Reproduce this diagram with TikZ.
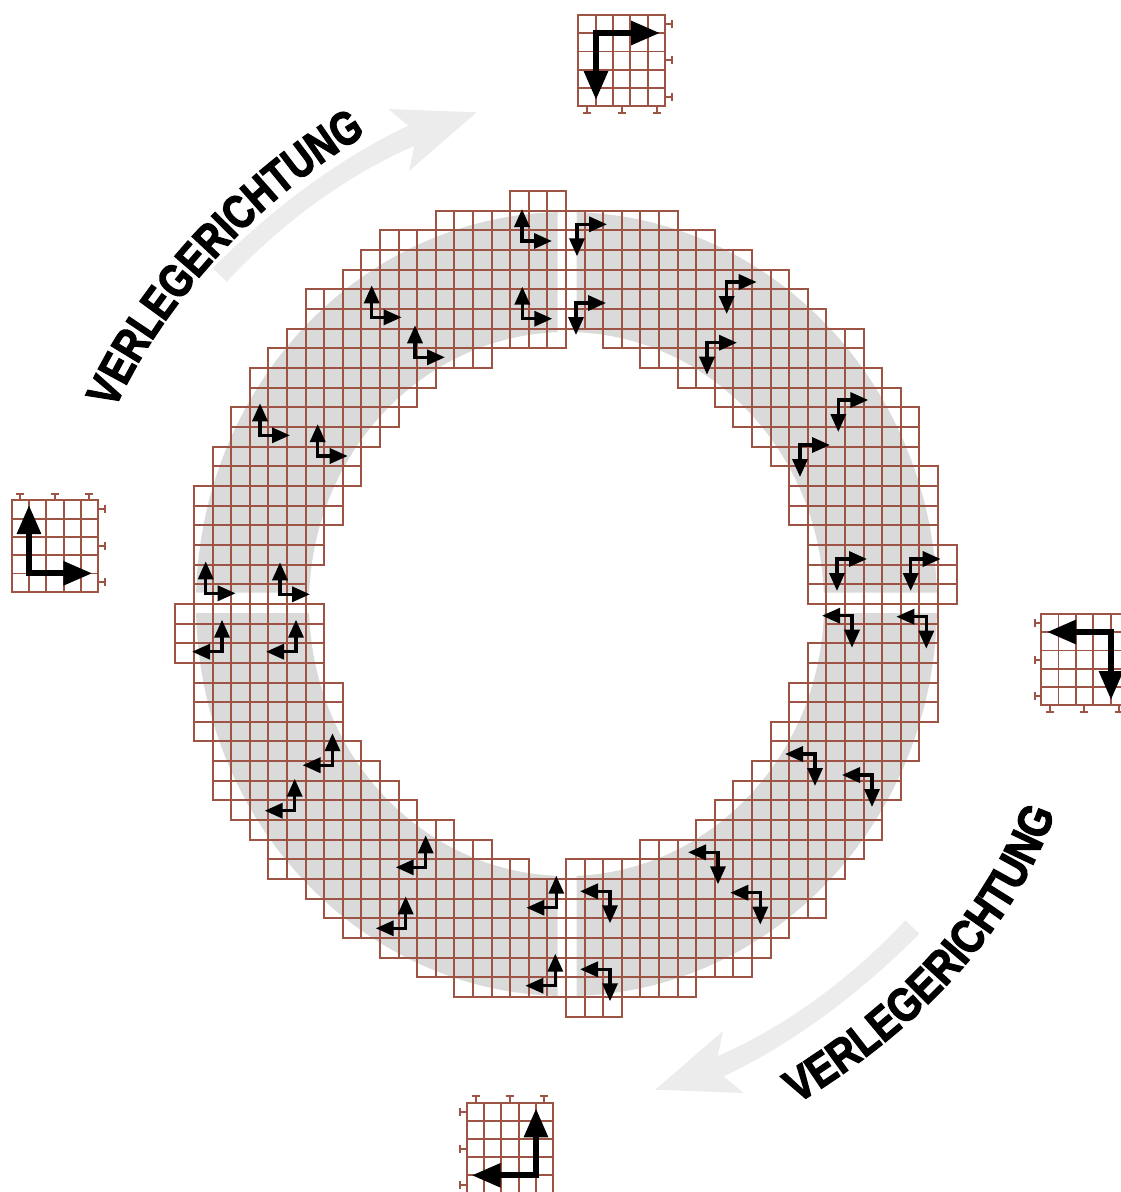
\documentclass[tikz,border=0pt]{standalone}
\usepackage{fontspec}
\usetikzlibrary{arrows.meta,decorations.text}
\newfontfamily\verl[FakeStretch=0.80,FakeBold=2.5]{Liberation Sans}
\newfontfamily\verlb[FakeStretch=0.84,FakeBold=2.5]{Liberation Sans}
\definecolor{gridbrown}{RGB}{158,84,68}
\definecolor{ringgrey}{RGB}{218,218,218}
\definecolor{sweepgrey}{RGB}{236,236,236}
\tikzset{
  cellline/.style={draw=gridbrown,line width=2pt},
  smallL/.style={line width=3.4pt,black,{Triangle[length=18pt,width=15pt]}-{Triangle[length=18pt,width=15pt]}},
  bigL/.style={line width=5.9pt,black,{Triangle[length=29pt,width=23pt]}-{Triangle[length=29pt,width=23pt]}},
  tickmark/.style={draw=gridbrown,line width=2pt},
  sweep/.style={fill=sweepgrey,draw=none},
  sweeptexta/.style={decorate,decoration={text along path,text align=center,
    text={|\verl\bfseries\fontsize{47}{47}\selectfont|VERLEGERICHTUNG}}},
  sweeptextb/.style={decorate,decoration={text along path,text align=center,
    text={|\verlb\bfseries\fontsize{47}{47}\selectfont|VERLEGERICHTUNG}}}
}
% small 5x5 panel: x0,y0,pitch x,pitch y
\newcommand{\panel}[4]{%
  \foreach \pa in {0,...,4}{\foreach \pb in {0,...,4}{%
    \draw[cellline,line width=1.8pt] ({#1+\pa*#3},{#2+\pb*#4}) rectangle ++(#3,#4);}}}
\newcommand{\tickH}[3]{\draw[tickmark] (#1,#3)--(#2,#3); \draw[tickmark] (#2,#3-4)--(#2,#3+4);}
\newcommand{\tickV}[3]{\draw[tickmark] (#1,#2)--(#1,#3); \draw[tickmark] (#1-4,#3)--(#1+4,#3);}
\begin{document}
\begin{tikzpicture}[x=1pt,y=-1pt]
\useasboundingbox (0,0) rectangle (1121,1192);
\clip (0,0) rectangle (1121,1192);
% sweeping arrows
\fill[sweep] (212.7,268.3) .. controls (265,215) and (335,160) .. (408.3,125.7)
  -- (388.3,109) -- (476.7,112.3) -- (409,171) -- (414.3,146)
  .. controls (340,178) and (275,230) .. (226.7,281.7) -- cycle;
\fill[sweep] (919.3,933.7) .. controls (867,987) and (797,1042) .. (723.7,1076.3)
  -- (743.7,1093) -- (655.3,1089.7) -- (723,1031) -- (717.7,1056)
  .. controls (792,1024) and (857,972) .. (905.3,920.3) -- cycle;
\path[sweeptexta] (116.7,405) .. controls (160,310) and (250,205) .. (362,137);
\path[sweeptextb] (800,1102) .. controls (898,1042) and (1005,950) .. (1054,816);
% grey ring, four quadrants
\begin{scope}
\clip (0,0) rectangle (557.5,592.7) (576.5,0) rectangle (1121,592.7)
      (0,613) rectangle (557.5,1192) (576.5,613) rectangle (1121,1192);
\fill[ringgrey,even odd rule] (566.5,604) ellipse [x radius=370.5,y radius=392]
      (566.5,604) ellipse [x radius=257.5,y radius=272];
\end{scope}
% tile grid, half point-mirrored about its centre
\begin{scope}[shift={(566,191)},x=18.6pt,y=-19.66pt]
\foreach \rw/\aa/\bb in {0/-3/0,1/-7/6,2/-10/8,3/-11/10,4/-12/12,5/-14/13,6/-14/14,
  7/-15/0,7/2/16,8/-16/-4,8/4/16,9/-17/-7,9/6/17,10/-17/-8,10/8/18,11/-18/-9,11/9/19,
  12/-18/-10,12/10/19,13/-19/-11,13/11/19,14/-19/-11,14/12/20,15/-20/-12,15/12/20,
  16/-20/-12,16/12/20,17/-20/-13,17/13/20,18/-20/-13,18/13/21,19/-20/-14,19/13/21,
  20/-20/-14,20/13/21}{
  \pgfmathtruncatemacro\ee{\bb-1}
  \foreach \cc in {\aa,...,\ee}{
    \draw[cellline] (\cc,\rw) rectangle ++(1,1);
    \draw[cellline] (-\cc,42-\rw) rectangle ++(-1,-1);
  }
}
\end{scope}
% small L arrows
\foreach \cx/\cy in {522/241,522.3/318.7,371.7/317.3,415/357.3,260/435.3,317.7/456,205.7/593.3,280/594.3}
  \draw[smallL] (\cx,\cy-32) -- (\cx,\cy) -- (\cx+30,\cy);
\foreach \cx/\cy in {222/651.7,296/651.7,332.5/765.2,294.7/810.7,425.7/867.3,405.7/928.3,556.3/907.7,555.3/985.7}
  \draw[smallL] (\cx,\cy-32) -- (\cx,\cy) -- (\cx-30,\cy);
\foreach \cx/\cy in {610/891.3,610/969.3,718/852.3,760.3/892.7,815/754,872/775,852/615.7,926.3/616.7}
  \draw[smallL] (\cx-30,\cy) -- (\cx,\cy) -- (\cx,\cy+32);
\foreach \cx/\cy in {577/224.3,576/303,726.7/282,707/342.7,838.3/400,800/445,837/559,910.7/559}
  \draw[smallL] (\cx+30,\cy) -- (\cx,\cy) -- (\cx,\cy+32);
% top panel
\panel{578.3}{15}{17.34}{18.2}
\foreach \ty in {24,60.3,97} {\tickH{665}{671.5}{\ty}}
\foreach \tx in {587.3,621.7,656.7} {\tickV{\tx}{106}{112.5}}
\draw[bigL] (660,33) -- (596,33) -- (596,100);
% left panel
\panel{11.7}{500.3}{17.33}{18.3}
\foreach \tx in {20.3,54.7,89} {\tickV{\tx}{500.3}{494}}
\foreach \ty in {509,545.7,582.3} {\tickH{98.3}{104.8}{\ty}}
\draw[bigL] (29,505) -- (29,573.3) -- (92.3,573.3);
% right panel
\panel{1041}{614}{17.4}{18.2}
\foreach \ty in {622.7,660,696} {\tickH{1041}{1034.5}{\ty}}
\foreach \tx in {1049.7,1084.3,1118.7} {\tickV{\tx}{705}{711.5}}
\draw[bigL] (1047,632) -- (1111,632) -- (1111,700);
% bottom panel
\panel{466.7}{1102.7}{17.33}{18.1}
\foreach \tx in {475.7,509.7,544.3} {\tickV{\tx}{1102.7}{1096.2}}
\foreach \ty in {1112,1149,1185.3} {\tickH{466.7}{460.2}{\ty}}
\draw[bigL] (536,1108.3) -- (536,1175.3) -- (471.7,1175.3);
\end{tikzpicture}
\end{document}
